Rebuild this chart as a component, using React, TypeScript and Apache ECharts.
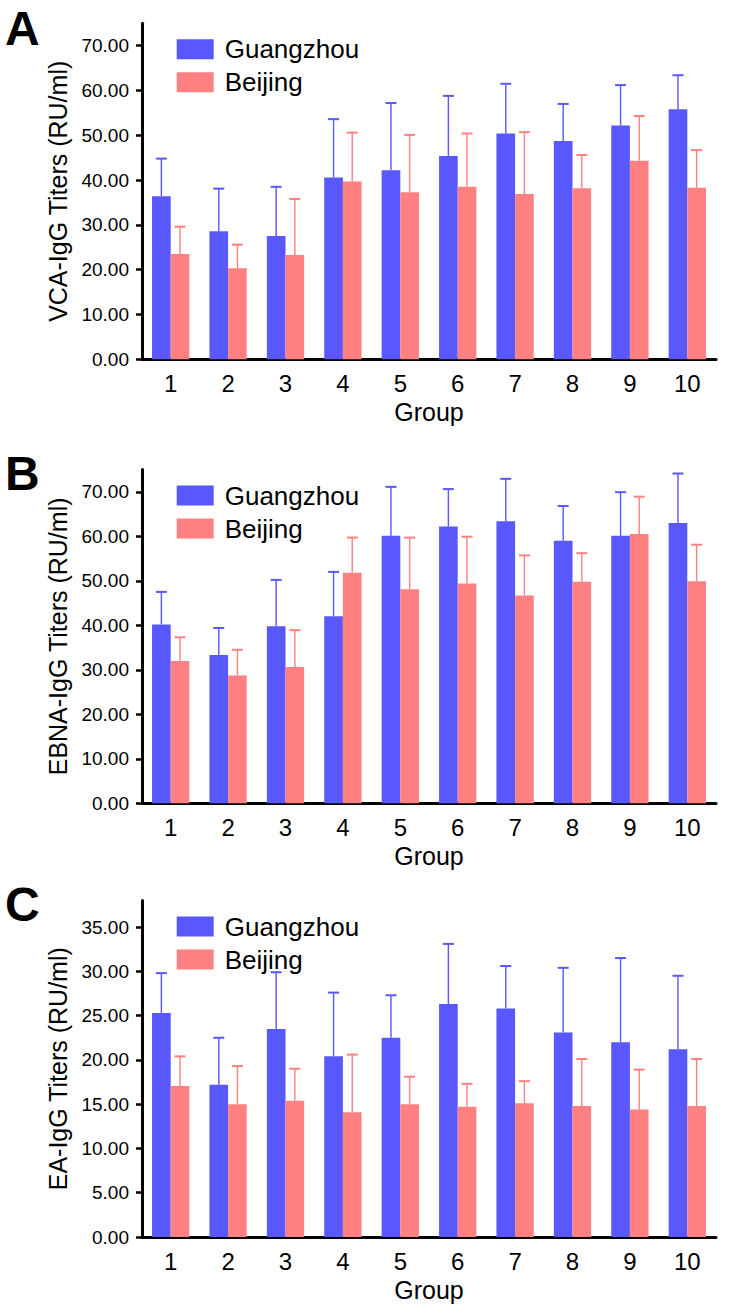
import React, { useEffect, useRef } from "react";
import * as echarts from "echarts";

const groups = ["1", "2", "3", "4", "5", "6", "7", "8", "9", "10"];

const vcaGuangzhou = [36.4, 28.6, 27.5, 40.6, 42.2, 45.4, 50.4, 48.7, 52.2, 55.8];
const vcaGuangzhouUpper = [44.8, 38.1, 38.5, 53.6, 57.2, 58.8, 61.5, 57.0, 61.2, 63.4];
const vcaBeijing = [23.5, 20.3, 23.3, 39.7, 37.3, 38.5, 36.9, 38.2, 44.3, 38.3];
const vcaBeijingUpper = [29.6, 25.6, 35.8, 50.6, 50.1, 50.4, 50.7, 45.6, 54.3, 46.7];

const ebnaGuangzhou = [40.2, 33.3, 39.8, 42.0, 60.1, 62.2, 63.4, 59.0, 60.1, 63.0];
const ebnaGuangzhouUpper = [47.5, 39.4, 50.2, 52.0, 71.1, 70.6, 72.9, 66.8, 69.9, 74.1];
const ebnaBeijing = [32.0, 28.7, 30.6, 51.8, 48.1, 49.4, 46.7, 49.8, 60.5, 49.9];
const ebnaBeijingUpper = [37.3, 34.5, 38.9, 59.7, 59.7, 59.9, 55.7, 56.2, 68.9, 58.1];

const eaGuangzhou = [25.3, 17.2, 23.5, 20.4, 22.5, 26.3, 25.8, 23.1, 22.0, 21.2];
const eaGuangzhouUpper = [29.8, 22.5, 29.9, 27.6, 27.3, 33.1, 30.6, 30.4, 31.5, 29.5];
const eaBeijing = [17.05, 15.0, 15.4, 14.1, 15.0, 14.7, 15.1, 14.8, 14.4, 14.8];
const eaBeijingUpper = [20.4, 19.3, 19.0, 20.6, 18.1, 17.3, 17.6, 20.1, 18.9, 20.1];

const panelLetters = ["A", "B", "C"];
const yTitles = ["VCA-IgG Titers (RU/ml)", "EBNA-IgG Titers (RU/ml)", "EA-IgG Titers (RU/ml)"];
const yTicksAB = [0, 10, 20, 30, 40, 50, 60, 70];
const yTicksC = [0, 5, 10, 15, 20, 25, 30, 35];

const BLUE = "#5858fd";
const PINK = "#ff8080";
const FONT = "Liberation Sans, Arial, Helvetica, sans-serif";

const panels = [
  { gz: vcaGuangzhou, gzU: vcaGuangzhouUpper, bj: vcaBeijing, bjU: vcaBeijingUpper, max: 75, ticks: yTicksAB, top: 23.3, bottom: 359.3 },
  { gz: ebnaGuangzhou, gzU: ebnaGuangzhouUpper, bj: ebnaBeijing, bjU: ebnaBeijingUpper, max: 75, ticks: yTicksAB, top: 469.5, bottom: 803.3 },
  { gz: eaGuangzhou, gzU: eaGuangzhouUpper, bj: eaBeijing, bjU: eaBeijingUpper, max: 38, ticks: yTicksC, top: 900.5, bottom: 1237 },
];

const BAR_FRAC = 0.325;

function errorSeries(name: string, gridIdx: number, means: number[], uppers: number[], color: string, side: number) {
  return {
    type: "custom",
    name,
    xAxisIndex: gridIdx,
    yAxisIndex: gridIdx,
    z: 3,
    silent: true,
    encode: { x: 0, y: [1, 2] },
    data: means.map((m, i) => [i, m, uppers[i]]),
    renderItem: (params: any, api: any) => {
      const idx = api.value(0);
      const p0 = api.coord([idx, api.value(1)]);
      const p1 = api.coord([idx, api.value(2)]);
      const band = api.size([1, 0])[0];
      const cx = p0[0] + side * band * BAR_FRAC / 2;
      const half = 5.5;
      return {
        type: "group",
        children: [
          { type: "line", shape: { x1: cx, y1: p0[1], x2: cx, y2: p1[1] }, style: { stroke: color, lineWidth: 1.4 } },
          { type: "line", shape: { x1: cx - half, y1: p1[1], x2: cx + half, y2: p1[1] }, style: { stroke: color, lineWidth: 2 } },
        ],
      };
    },
  };
}

export default function App() {
  const ref = useRef<HTMLDivElement>(null);
  useEffect(() => {
    if (!ref.current) return;
    const chart = echarts.init(ref.current, undefined, { renderer: "svg" });
    const grids: any[] = [];
    const xAxes: any[] = [];
    const yAxes: any[] = [];
    const series: any[] = [];
    const legends: any[] = [];
    const graphics: any[] = [];
    panels.forEach((p, gi) => {
      grids.push({ left: 142, width: 574, top: p.top, height: p.bottom - p.top, containLabel: false });
      xAxes.push({
        type: "category",
        gridIndex: gi,
        data: groups,
        name: "Group",
        nameLocation: "middle",
        nameGap: 40,
        nameTextStyle: { fontSize: 25, color: "#000", fontFamily: FONT },
        axisLine: { lineStyle: { color: "#000", width: 3 } },
        axisTick: { alignWithLabel: true, length: 6, lineStyle: { color: "#000", width: 2.5 } },
        axisLabel: { fontSize: 24, color: "#000", fontFamily: FONT, margin: 12 },
        splitLine: { show: false },
      });
      yAxes.push({
        type: "value",
        gridIndex: gi,
        min: 0,
        max: p.max,
        name: yTitles[gi],
        nameLocation: "middle",
        nameRotate: 90,
        nameGap: 68,
        nameTextStyle: { fontSize: 25, color: "#000", fontFamily: FONT },
        axisLine: { show: true, lineStyle: { color: "#000", width: 3 } },
        axisTick: { show: true, length: 6, customValues: p.ticks, lineStyle: { color: "#000", width: 2.5 } },
        axisLabel: {
          fontSize: 19,
          color: "#000",
          fontFamily: FONT,
          margin: 13,
          customValues: p.ticks,
          formatter: (v: number) => v.toFixed(2),
        },
        splitLine: { show: false },
      });
      series.push({
        type: "bar",
        name: "Guangzhou",
        xAxisIndex: gi,
        yAxisIndex: gi,
        data: p.gz,
        barWidth: "32.5%",
        barGap: "0%",
        itemStyle: { color: BLUE },
        z: 2,
      });
      series.push({
        type: "bar",
        name: "Beijing",
        xAxisIndex: gi,
        yAxisIndex: gi,
        data: p.bj,
        barWidth: "32.5%",
        barGap: "0%",
        itemStyle: { color: PINK },
        z: 2,
      });
      series.push(errorSeries("errGZ" + gi, gi, p.gz, p.gzU, BLUE, -1));
      series.push(errorSeries("errBJ" + gi, gi, p.bj, p.bjU, PINK, 1));
      legends.push({
        data: ["Guangzhou", "Beijing"],
        orient: "vertical",
        left: 171.7,
        top: p.top + 8,
        itemWidth: 37,
        itemHeight: 20,
        itemGap: 7,
        selectedMode: false,
        icon: "rect",
        textStyle: { fontSize: 26, color: "#000", fontFamily: FONT, padding: [0, 0, 0, 6] },
      });
      graphics.push({
        type: "text",
        left: 5,
        top: Math.max(4, p.top - 20),
        style: { text: panelLetters[gi], fontSize: 48, lineHeight: 48, fontWeight: "bold", fill: "#000", fontFamily: FONT },
      });
    });
    chart.setOption({
      animation: false,
      backgroundColor: "#fff",
      grid: grids,
      xAxis: xAxes,
      yAxis: yAxes,
      legend: legends,
      series,
      graphic: graphics,
    });
    return () => chart.dispose();
  }, []);
  return <div ref={ref} style={{ position: "absolute", left: 0, top: 0, width: 729, height: 1316 }} />;
}
